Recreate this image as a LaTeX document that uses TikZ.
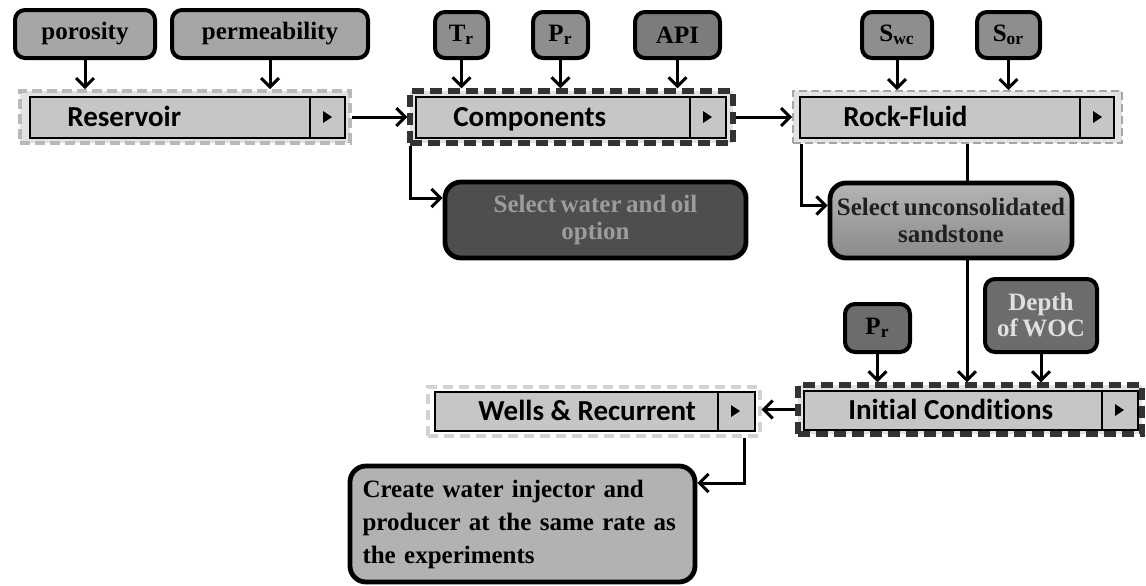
\documentclass[tikz,border=0pt]{standalone}
\usepackage{fontspec}
\setmainfont{Liberation Serif}
\newfontfamily\carlito[Ligatures=NoCommon]{Carlito}
\usetikzlibrary{arrows.meta}
\definecolor{boxfill}{HTML}{C6C6C6}
\definecolor{bandfill}{HTML}{E2E2E2}
\definecolor{pfa}{HTML}{A6A6A6}
\definecolor{pfb}{HTML}{8E8E8E}
\definecolor{pfc}{HTML}{7C7C7C}
\definecolor{pfd}{HTML}{6C6C6C}
\definecolor{swfill}{HTML}{4E4E4E}
\definecolor{swtext}{HTML}{9C9C9C}
\definecolor{sstop}{HTML}{B4B4B4}
\definecolor{ssbot}{HTML}{8A8A8A}
\definecolor{crfill}{HTML}{B2B2B2}
% box by its corners (pixels): style, name, x1, y1, x2, y2, text
\newcommand\cbox[7]{%
  \pgfmathsetmacro\bxc{(#3+#5)/2}%
  \pgfmathsetmacro\byc{(#4+#6)/2}%
  \pgfmathsetmacro\bxw{(#5-#3)*0.5}%
  \pgfmathsetmacro\byh{(#6-#4)*0.5}%
  \node[#1, minimum width=\bxw pt, minimum height=\byh pt] (#2) at (\bxc,\byc) {#7};}
\newcommand\tightsp{\spaceskip=0.18em plus 0.05em\relax}
\begin{document}
\begin{tikzpicture}[x=0.5pt,y=-0.5pt,
  parbox/.style={draw=black, line width=2pt, rounded corners=5pt, inner sep=0pt,
    font=\bfseries\fontsize{12.5}{13}\selectfont\tightsp, align=center},
  selbox/.style={draw=black, line width=2.4pt, rounded corners=8pt, inner sep=0pt,
    font=\bfseries\fontsize{12.5}{13.5}\selectfont\tightsp, align=center},
  lightdash/.style={draw=gray!55, fill=bandfill, line width=1.8pt, inner sep=0pt, dash pattern=on 5pt off 2.5pt},
  darkdash/.style={draw=black!80, fill=bandfill, line width=2.6pt, inner sep=0pt, dash pattern=on 6pt off 3pt},
  thindash/.style={draw=gray!70, fill=bandfill, line width=0.8pt, inner sep=0pt, dash pattern=on 4pt off 2pt},
  faintdash/.style={draw=gray!35, fill=white, line width=1.6pt, inner sep=0pt, dash pattern=on 5pt off 3pt},
  innerbox/.style={draw=black, line width=1.3pt, fill=boxfill, inner sep=0pt},
  maintext/.style={font=\carlito\bfseries\fontsize{14.5}{16}\selectfont, anchor=base west, inner sep=0pt},
  arr/.style={line width=1.5pt, -{Straight Barb[length=4.5pt,width=9pt]}},
  divider/.style={line width=1.3pt}
]
\useasboundingbox (0,0) rectangle (1146,585);

% ---------- top parameter boxes ----------
\cbox{parbox, fill=pfa}{por}{15}{10}{155}{58}{porosity}
\cbox{parbox, fill=pfa}{perm}{172}{10}{368}{58}{permeability}
\cbox{parbox, fill=pfb}{tr}{435}{12}{488}{58}{T\textsubscript{r}}
\cbox{parbox, fill=pfb}{pr}{533}{12}{588}{58}{P\textsubscript{r}}
\cbox{parbox, fill=pfc}{api}{635}{12}{720}{58}{API}
\cbox{parbox, fill=pfb}{swc}{862}{12}{932}{58}{S\textsubscript{wc}}
\cbox{parbox, fill=pfb}{sor}{977}{12}{1040}{58}{S\textsubscript{or}}

% ---------- Reservoir ----------
\cbox{lightdash}{res}{20}{91}{350}{143}{}
\cbox{innerbox}{resin}{30}{97}{345}{138}{}
\draw[divider] (310,97) -- (310,138);
\fill (323,111) -- (323,123) -- (332,117) -- cycle;
\node[maintext] (rest) at (67,126) {Reservoir};

% ---------- Components ----------
\cbox{darkdash}{comp}{410}{91}{733}{143}{}
\cbox{innerbox}{compin}{416}{97}{726}{138}{}
\draw[divider] (690,97) -- (690,138);
\fill (703,111) -- (703,123) -- (712,117) -- cycle;
\node[maintext] (compt) at (453,126) {Components};

% ---------- Rock-Fluid ----------
\cbox{thindash}{rf}{793}{91}{1122}{143}{}
\cbox{innerbox}{rfin}{800}{97}{1114}{138}{}
\draw[divider] (1080,97) -- (1080,138);
\fill (1093,111) -- (1093,123) -- (1102,117) -- cycle;
\node[maintext] (rft) at (843,126) {Rock-Fluid};

% ---------- Initial Conditions ----------
\cbox{darkdash}{ic}{798}{385}{1142}{434}{}
\cbox{innerbox}{icin}{804}{391}{1138}{430}{}
\draw[divider] (1102,391) -- (1102,430);
\fill (1115,404) -- (1115,416) -- (1124,410) -- cycle;
\node[maintext] (ict) at (848,419) {Initial Conditions};

% ---------- Wells & Recurrent ----------
\cbox{faintdash}{wells}{428}{387}{760}{436}{}
\cbox{innerbox}{wellsin}{435}{392}{755}{431}{}
\draw[divider] (718,392) -- (718,431);
\fill (731,405) -- (731,417) -- (740,411) -- cycle;
\node[maintext] (wellst) at (478,420) {Wells \& Recurrent};

% ---------- lower parameter boxes ----------
\cbox{parbox, fill=pfd}{pr2}{845}{304}{910}{352}{P\textsubscript{r}}
\cbox{parbox, fill=pfd, text=black!12}{woc}{985}{279}{1097}{352}{Depth\\of WOC}

% ---------- connector behind the sandstone box ----------
\draw[arr] ([xshift=4.75pt]rf.south) -- ([xshift=4.75pt]rf.south |- ic.north);

% ---------- option boxes ----------
\cbox{selbox, fill=swfill, text=swtext}{sw}{445}{182}{746}{258}{Select water and oil\\option}
\cbox{selbox, top color=sstop, bottom color=ssbot, text=black!88}{ss}{830}{183}{1072}{258}{Select unconsolidated\\sandstone}
\cbox{selbox, fill=crfill, align=left, text width=160pt, font=\bfseries\fontsize{12.5}{16.5}\selectfont\tightsp}{cr}{350}{466}{695}{582}{Create water injector and\\producer at the same rate as\\the experiments}

% ---------- arrows ----------
\draw[arr] (por.south) -- (por.south |- res.north);
\draw[arr] (perm.south) -- (perm.south |- res.north);
\draw[arr] (tr.south) -- (tr.south |- comp.north);
\draw[arr] (pr.south) -- (pr.south |- comp.north);
\draw[arr] (api.south) -- (api.south |- comp.north);
\draw[arr] (swc.south) -- (swc.south |- rf.north);
\draw[arr] (sor.south) -- (sor.south |- rf.north);
\draw[arr] (res.east) -- (comp.west);
\draw[arr] (comp.east) -- (rf.west);
\draw[arr] ([xshift=1.5pt]comp.south west) |- ([yshift=11pt]sw.west);
\draw[arr] ([xshift=4.5pt]rf.south west) |- ([yshift=7.5pt]ss.west);
\draw[arr] (pr2.south) -- (pr2.south |- ic.north);
\draw[arr] (woc.south) -- (woc.south |- ic.north);
\draw[arr] (ic.west) -- (ic.west -| wells.east);
\draw[arr] ([xshift=-8.5pt]wells.south east) |- ([yshift=20.5pt]cr.east);
\end{tikzpicture}
\end{document}
